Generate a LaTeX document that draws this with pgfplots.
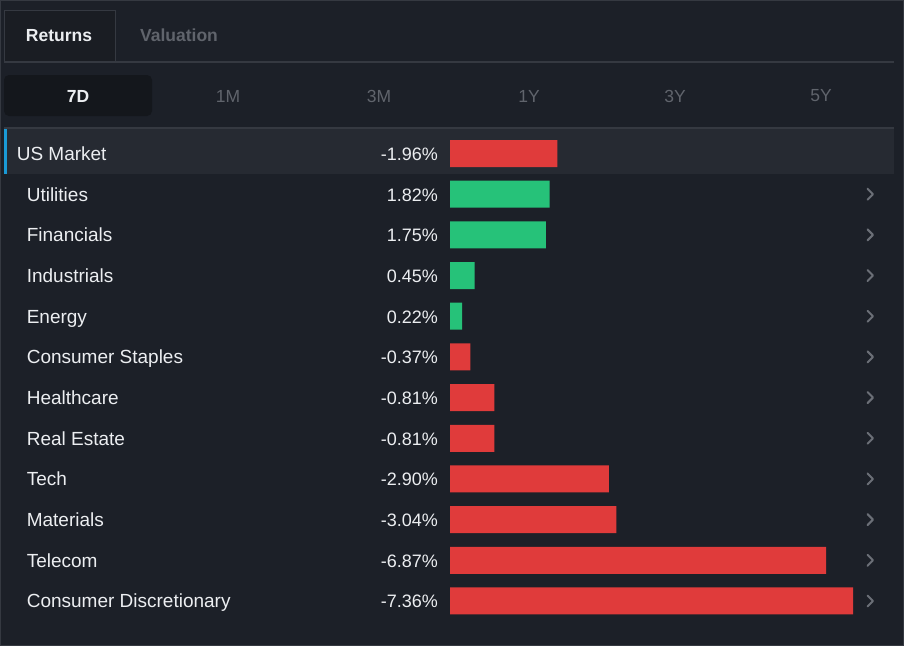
\documentclass[border=0pt]{standalone}
\usepackage{pgfplots}
\pgfplotsset{compat=1.18}
\usepackage{pgfplotstable}
\usepackage{fontspec}
\setmainfont{Liberation Sans}
\definecolor{bg}{HTML}{1C2028}
\definecolor{rowhl}{HTML}{262A32}
\definecolor{sep}{HTML}{353941}
\definecolor{tabfill}{HTML}{1A1D23}
\definecolor{selbox}{HTML}{14171C}
\definecolor{graytxt}{HTML}{60646C}
\definecolor{whitetxt}{HTML}{ECEEF1}
\definecolor{barred}{HTML}{E03B3B}
\definecolor{bargreen}{HTML}{26C279}
\definecolor{accent}{HTML}{1A9AD6}
\definecolor{chev}{HTML}{6B6F77}
\pgfplotstableread{
row value
0 -1.96
1 1.82
2 1.75
3 0.45
4 0.22
5 -0.37
6 -0.81
7 -0.81
8 -2.90
9 -3.04
10 -6.87
11 -7.36
}\sectordata
\newcommand\lbl[2]{\makebox[411pt][l]{{\fontsize{19}{22}\selectfont #1}\hfill #2}}
\begin{document}
\begin{tikzpicture}
\fill[bg] (0pt,0pt) rectangle (904pt,-646pt);
\path[use as bounding box] (0pt,0pt) rectangle (904pt,-646pt);
\begin{scope}[x=1pt,y=-1pt]
  \draw[sep, line width=1pt] (0.5,0.5) rectangle (903.5,645.5);
  % tabs
  \fill[tabfill] (4,10) rectangle (115,62);
  \draw[sep, line width=1pt] (4,62) -- (4,10) -- (115,10) -- (115,62);
  \draw[sep, line width=1.5pt] (4,62) -- (894,62);
  \node[whitetxt, font=\fontsize{17.5}{20}\selectfont\bfseries] at (59,35.5) {Returns};
  \node[graytxt, font=\fontsize{17.5}{20}\selectfont\bfseries] at (179,35.5) {Valuation};
  % period selector
  \fill[selbox, rounded corners=5pt] (4,75) rectangle (152,116);
  \node[whitetxt, font=\fontsize{17.5}{20}\selectfont\bfseries] at (78,96) {7D};
  \node[graytxt, font=\fontsize{17.5}{20}\selectfont] at (228,96) {1M};
  \node[graytxt, font=\fontsize{17.5}{20}\selectfont] at (379,96) {3M};
  \node[graytxt, font=\fontsize{17.5}{20}\selectfont] at (529,96) {1Y};
  \node[graytxt, font=\fontsize{17.5}{20}\selectfont] at (675,96) {3Y};
  \node[graytxt, font=\fontsize{17.5}{20}\selectfont] at (821,96) {5Y};
  \draw[sep, line width=1.5pt] (4,128) -- (894,128);
  % highlighted row
  \fill[rowhl] (4,129) rectangle (894,174);
  \fill[accent] (4,129) rectangle (7,174);
  % chevrons
  \foreach \k in {1,...,11} {
    \draw[chev, line width=2pt, line cap=round, line join=round]
      (867.5,{153.5+40.68*\k-5.5}) -- (873,{153.5+40.68*\k}) -- (867.5,{153.5+40.68*\k+5.5});
  }
\end{scope}
\begin{axis}[
  at={(450pt,-133.16pt)}, anchor=north west,
  scale only axis, width=403pt, height=488.16pt,
  xmin=0, xmax=7.36, ymin=-0.5, ymax=11.5, y dir=reverse,
  xbar, bar width=27pt, bar shift=0pt,
  axis line style={draw=none},
  xtick=\empty, ytick={0,...,11},
  major tick length=0pt,
  yticklabels={
    \lbl{\hspace*{-10pt}US Market}{-1.96\%},
    \lbl{Utilities}{1.82\%},
    \lbl{Financials}{1.75\%},
    \lbl{Industrials}{0.45\%},
    \lbl{Energy}{0.22\%},
    \lbl{Consumer Staples}{-0.37\%},
    \lbl{Healthcare}{-0.81\%},
    \lbl{Real Estate}{-0.81\%},
    \lbl{Tech}{-2.90\%},
    \lbl{Materials}{-3.04\%},
    \lbl{Telecom}{-6.87\%},
    \lbl{Consumer Discretionary}{-7.36\%}},
  yticklabel style={anchor=base east, inner sep=0pt, xshift=-12pt, yshift=-7pt,
    text=whitetxt, font=\fontsize{18}{21}\selectfont},
  clip=false,
]
\addplot[draw=none, fill=barred] table[x expr={-\thisrow{value}}, y=row, restrict x to domain=0:100] {\sectordata};
\addplot[draw=none, fill=bargreen] table[x=value, y=row, restrict x to domain=0:100] {\sectordata};
\end{axis}
\end{tikzpicture}
\end{document}
